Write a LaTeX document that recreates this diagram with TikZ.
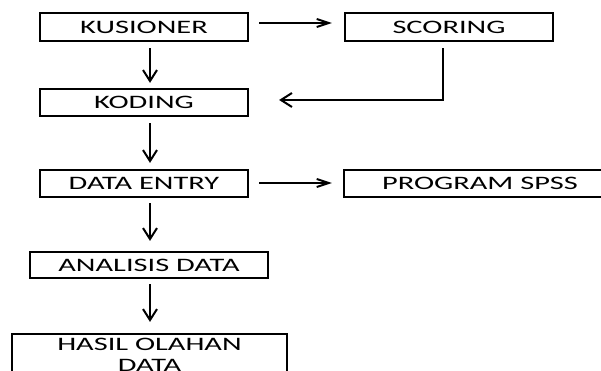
\documentclass[tikz,border=0pt]{standalone}
\usepackage{fontspec}
\setmainfont{Carlito}
\usetikzlibrary{arrows.meta}
\newcommand{\wide}[1]{\scalebox{1.6}[1]{#1}}
\tikzset{
  box/.style={draw=black, line width=2.2pt, inner sep=0pt, anchor=center,
    font=\fontsize{19}{21}\selectfont},
  va/.style={line width=2.2pt, -{Straight Barb[length=11pt,width=14pt,line width=2pt]}},
  ha/.style={line width=2.2pt, -{Straight Barb[length=12pt,width=8pt,line width=2pt]}}
}
\begin{document}
\begin{tikzpicture}[x=1pt,y=-1pt]
\useasboundingbox (0,0) rectangle (601,371);
\clip (0,0) rectangle (601,371);
\fill[white] (0,0) rectangle (601,371);
\node[box, minimum width=208pt, minimum height=28pt] (kus) at (144,27) {\wide{KUSIONER}};
\node[box, minimum width=208pt, minimum height=28pt] (sco) at (449,27) {\wide{SCORING}};
\node[box, minimum width=208pt, minimum height=27pt] (kod) at (144,102.5) {\wide{KODING}};
\node[box, minimum width=208pt, minimum height=27pt] (de) at (144,183.5) {\wide{DATA ENTRY}};
\node[box, minimum width=272pt, minimum height=27pt] (spss) at (480,183.5) {\wide{PROGRAM SPSS}};
\node[box, minimum width=238pt, minimum height=26pt] (ana) at (149,265) {\wide{ANALISIS DATA}};
\node[box, minimum width=275pt, minimum height=46pt] (has) at (149.5,357)
  {\wide{\def\arraystretch{1}\begin{tabular}{@{}c@{}}HASIL OLAHAN\\DATA\end{tabular}}};
% connectors
\draw[ha, shorten <=10pt, shorten >=12pt] ([yshift=4pt]kus.east) -- ([yshift=4pt]kus.east -| sco.west);
\draw[va, shorten <=6pt, shorten >=5pt] ([xshift=6pt]kus.south) -- ([xshift=6pt]kus.south |- kod.north);
\draw[va, shorten <=6pt, shorten >=0pt] ([xshift=-6pt]sco.south) |- ([xshift=30pt,yshift=2.5pt]kod.east);
\draw[va, shorten <=6pt, shorten >=6pt] ([xshift=6pt]kod.south) -- ([xshift=6pt]kod.south |- de.north);
\draw[ha, shorten <=10pt, shorten >=11pt] ([yshift=0.5pt]de.east) -- ([yshift=0.5pt]de.east -| spss.west);
\draw[va, shorten <=5pt, shorten >=10pt] ([xshift=6pt]de.south) -- ([xshift=6pt]de.south |- ana.north);
\draw[va, shorten <=5pt, shorten >=11pt] (ana.south -| 150,0) -- (has.north -| 150,0);
\end{tikzpicture}
\end{document}
